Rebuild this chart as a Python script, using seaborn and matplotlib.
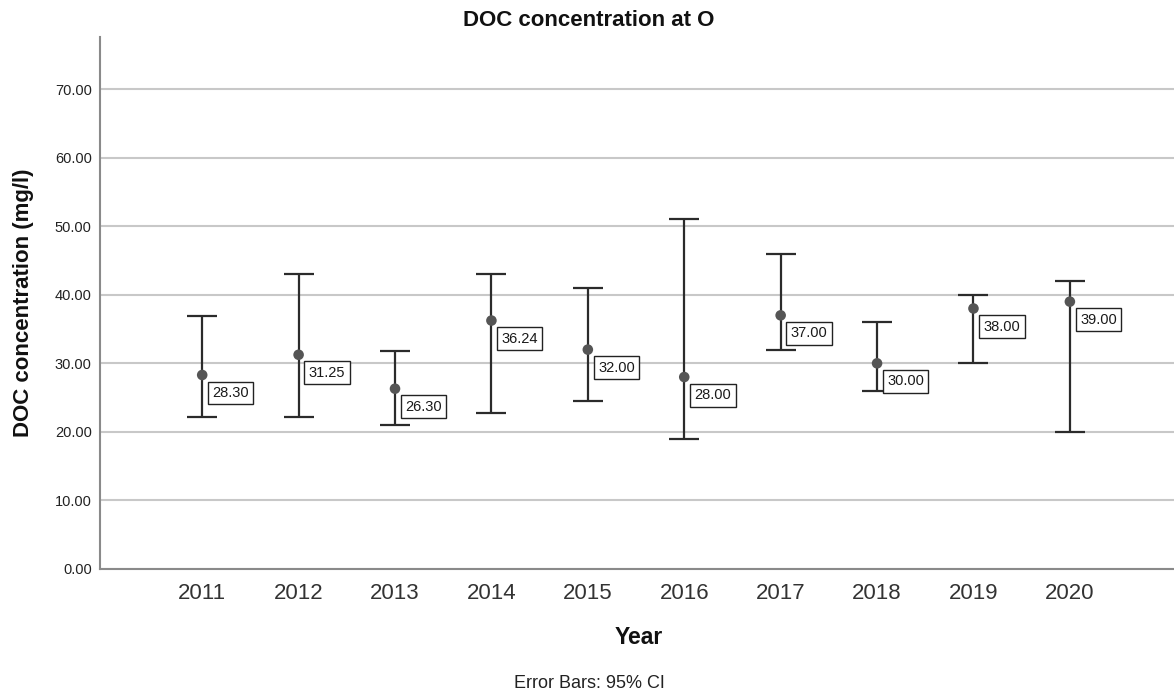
import matplotlib
matplotlib.use("Agg")
import matplotlib.pyplot as plt
import seaborn as sns
import pandas as pd

years = ["2011", "2012", "2013", "2014", "2015", "2016", "2017", "2018", "2019", "2020"]
means = [28.30, 31.25, 26.30, 36.24, 32.00, 28.00, 37.00, 30.00, 38.00, 39.00]
ci_low = [22.2, 22.2, 21.0, 22.7, 24.5, 19.0, 31.9, 25.9, 30.0, 20.0]
ci_high = [36.9, 43.0, 31.8, 43.1, 41.0, 51.0, 45.9, 36.0, 40.0, 42.0]
yticks = [0, 10, 20, 30, 40, 50, 60, 70]

sns.set_theme(style="white")
plt.rcParams["font.family"] = ["Liberation Sans", "DejaVu Sans"]

df = pd.DataFrame({"Year": years, "Mean": means, "Low": ci_low, "High": ci_high})

W, H = 1174, 696
fig = plt.figure(figsize=(W / 100, H / 100), dpi=100)
ax = fig.add_axes([100 / W, 1 - 569 / H, 1 - 100 / W, (569 - 37) / H])

pos = list(range(len(years)))
lower_err = [m - l for m, l in zip(means, ci_low)]
upper_err = [h - m for m, h in zip(means, ci_high)]
ax.errorbar(pos, means, yerr=[lower_err, upper_err], fmt="none",
            ecolor="#2b2b2b", elinewidth=1.6, capsize=11, capthick=1.6, zorder=3)
sns.scatterplot(data=df, x="Year", y="Mean", ax=ax, color="#555555", s=58,
                edgecolor="none", zorder=4)

for p, m in zip(pos, means):
    ax.annotate(f"{m:.2f}", xy=(p, m), xytext=(7.3, -8.0), textcoords="offset points",
                ha="left", va="top", fontsize=10.5, color="#1a1a1a",
                bbox=dict(boxstyle="square,pad=0.3", fc="white", ec="#222222", lw=1.0),
                zorder=5)

ax.set_xlim(-1.06, 10.08)
ax.set_ylim(0, 77.6)
ax.set_yticks(yticks)
ax.set_yticklabels([f"{v:.2f}" for v in yticks])
ax.yaxis.grid(True, color="#c8c8c8", linewidth=1.5)
ax.xaxis.grid(False)
ax.set_axisbelow(True)
for s in ["top", "right"]:
    ax.spines[s].set_visible(False)
for s in ["left", "bottom"]:
    ax.spines[s].set_color("#8a8a8a")
    ax.spines[s].set_linewidth(1.5)
ax.tick_params(axis="y", length=0, pad=6, labelsize=10.5, labelcolor="#222222")
ax.tick_params(axis="x", length=0, pad=10, labelsize=16, labelcolor="#333333")
ax.set_xlabel("")
ax.set_ylabel("")

fig.text(639 / W, 1 - 637 / H, "Year", ha="center", va="center",
         fontsize=16.5, fontweight="bold", color="#111111")
fig.text(24 / W, 1 - 303 / H, "DOC concentration (mg/l)", ha="center", va="center",
         rotation=90, fontsize=16, fontweight="bold", color="#111111")
fig.text(589 / W, 1 - 20 / H, "DOC concentration at O", ha="center", va="center",
         fontsize=16, fontweight="bold", color="#111111")
fig.text(589 / W, 1 - 683 / H, "Error Bars: 95% CI", ha="center", va="center",
         fontsize=13, color="#222222")

fig.savefig("out.png", dpi=100)
